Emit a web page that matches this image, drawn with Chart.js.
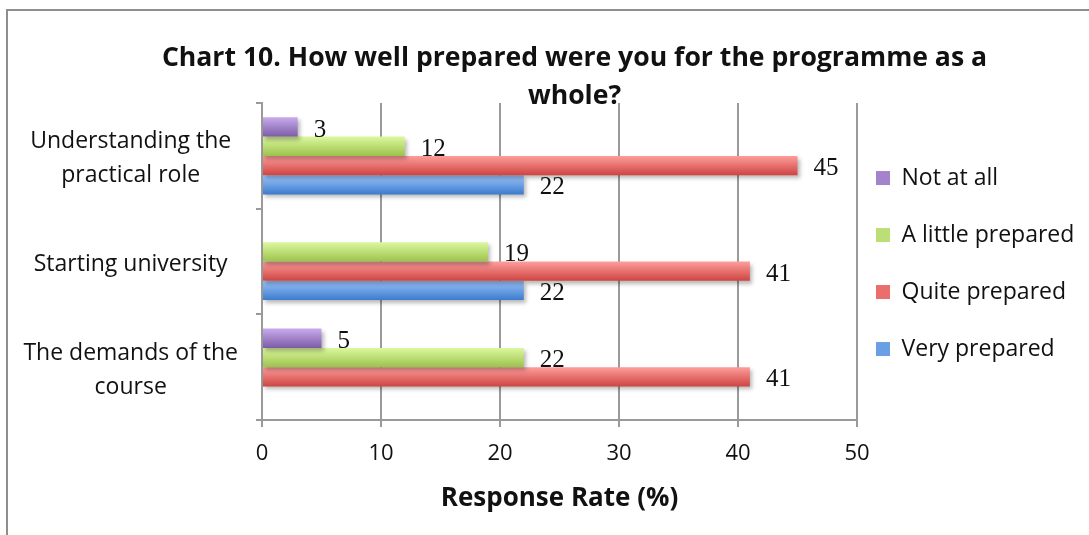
<!DOCTYPE html>
<html>
<head>
<meta charset="utf-8">
<script src="https://cdn.jsdelivr.net/npm/chart.js@4.4.1/dist/chart.umd.min.js"></script>
<style>
  html, body { margin: 0; padding: 0; background: #fff; }
  #wrap { width: 1089px; height: 535px; }
</style>
</head>
<body>
<div id="wrap"><canvas id="prepChart" width="1089" height="535"></canvas></div>
<script>
// Survey answers, percentages
const categories = [
    ["Understanding the", "practical role"],
    "Starting university",
    ["The demands of the", "course"]
];
const seriesNames = ["Not at all", "A little prepared", "Quite prepared", "Very prepared"];
const notAtAll = [3, null, 5];
const aLittle = [12, 19, 22];
const quite = [45, 41, 41];
const very = [22, 22, null];
const xTicks = [0, 10, 20, 30, 40, 50];

// top / bottom colours of each bar gradient
const shades = [
    ["#c8abec", "#7c5ca7"],
    ["#dcf89d", "#9bc34d"],
    ["#fd9e9c", "#cf4441"],
    ["#9cc4fb", "#3b7bcd"]
];
const flat = ["#a383cc", "#bcde76", "#ea6e6b", "#6a9fe4"];

const FONT = "'Open Sans'";

document.addEventListener("DOMContentLoaded", function () {
    const ctx = document.getElementById("prepChart").getContext("2d");

    // frame round the whole chart
    const frame = {
        id: "frame",
        beforeDraw(chart) {
            const c = chart.ctx;
            c.save();
            c.fillStyle = "#8e8e8e";
            c.fillRect(6, 9, chart.width, 2);
            c.fillRect(6, 9, 2, chart.height);
            c.restore();
        },
        afterLayout(chart) {
            // legend sits a little closer to the plot, title a bit to the right
            if (chart.legend) {
                chart.legend.left -= 15;
                chart.legend.top += 4;
            }
            if (chart.titleBlock) {
                chart.titleBlock.left += 30;
                chart.titleBlock.right += 30;
            }
        }
    };

    // vertical gradient on each bar, plus a soft shadow
    const shading = {
        id: "shading",
        beforeDatasetsDraw(chart) {
            chart.data.datasets.forEach(function (ds, di) {
                const meta = chart.getDatasetMeta(di);
                meta.data.forEach(function (el) {
                    if (el.skip || el.height == null) return;
                    const top = el.y - el.height / 2;
                    const g = chart.ctx.createLinearGradient(0, top, 0, top + el.height);
                    g.addColorStop(0, shades[di][0]);
                    g.addColorStop(1, shades[di][1]);
                    el.options = Object.assign({}, el.options, { backgroundColor: g });
                });
            });
        },
        beforeDatasetDraw(chart) {
            const c = chart.ctx;
            c.save();
            c.shadowColor = "rgba(0,0,0,0.28)";
            c.shadowBlur = 4;
            c.shadowOffsetX = 2;
            c.shadowOffsetY = 3;
        },
        afterDatasetDraw(chart) {
            chart.ctx.restore();
        }
    };

    // value next to the end of every bar
    const valueLabels = {
        id: "valueLabels",
        afterDatasetsDraw(chart) {
            const c = chart.ctx;
            c.save();
            c.font = "25px 'Liberation Serif'";
            c.fillStyle = "#111";
            c.textAlign = "left";
            c.textBaseline = "middle";
            chart.data.datasets.forEach(function (ds, di) {
                const meta = chart.getDatasetMeta(di);
                meta.data.forEach(function (el, i) {
                    const v = ds.data[i];
                    if (v == null) return;
                    c.fillText(String(v), el.x + 16, el.y + 3);
                });
            });
            c.restore();
        }
    };

    const series = [notAtAll, aLittle, quite, very];

    new Chart(ctx, {
        type: "bar",
        data: {
            labels: categories,
            datasets: seriesNames.map(function (name, i) {
                return {
                    label: name,
                    data: series[i],
                    backgroundColor: flat[i],
                    borderWidth: 0,
                    barPercentage: 1,
                    categoryPercentage: 0.73
                };
            })
        },
        options: {
            indexAxis: "y",
            responsive: false,
            animation: false,
            layout: { padding: { left: 0, right: 0, top: 0, bottom: 10 } },
            scales: {
                x: {
                    min: 0,
                    max: 50,
                    afterBuildTicks(scale) {
                        scale.ticks = xTicks.map(function (v) { return { value: v }; });
                    },
                    afterFit(scale) { scale.height = 105; },
                    grid: { color: "#9a9a9a", lineWidth: 2, tickLength: 7 },
                    border: { color: "#9a9a9a", width: 2 },
                    ticks: {
                        color: "#111",
                        font: { family: FONT, size: 22 },
                        padding: 14
                    },
                    title: {
                        display: true,
                        text: "Response Rate (%)",
                        color: "#111",
                        font: { family: FONT, size: 26, weight: "bold" },
                        padding: { top: 0, bottom: 11 }
                    }
                },
                y: {
                    afterFit(scale) { scale.width = 262; },
                    grid: { drawOnChartArea: false, offset: true, color: "#9a9a9a", lineWidth: 2, tickLength: 6 },
                    border: { color: "#9a9a9a", width: 2 },
                    ticks: {
                        color: "#111",
                        crossAlign: "center",
                        padding: 18,
                        labelOffset: 3,
                        font: { family: FONT, size: 23, lineHeight: 1.48 }
                    }
                }
            },
            plugins: {
                title: {
                    display: true,
                    text: ["Chart 10. How well prepared were you for the programme as a", "whole?"],
                    color: "#111",
                    font: { family: FONT, size: 26.6, weight: "bold", lineHeight: 1.43 },
                    padding: { top: 39, bottom: -12 }
                },
                legend: {
                    position: "right",
                    fullSize: false,
                    maxWidth: 232,
                    labels: {
                        color: "#111",
                        boxWidth: 14,
                        boxHeight: 14,
                        padding: 34,
                        font: { family: FONT, size: 23 }
                    }
                },
                tooltip: { enabled: false }
            }
        },
        plugins: [frame, shading, valueLabels]
    });
});
</script>
</body>
</html>
